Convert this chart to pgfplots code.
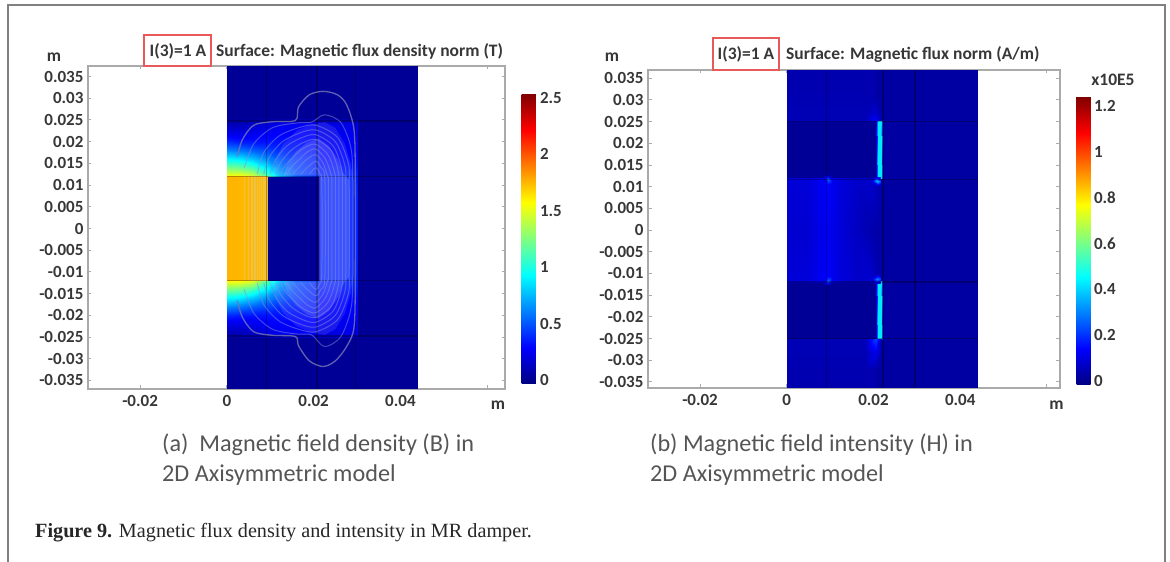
\documentclass[border=0pt]{standalone}
\usepackage{fontspec}
\setmainfont{Carlito}
\newfontfamily\serifcap{Liberation Serif}
\usepackage{pgfplots}
\pgfplotsset{compat=1.18}
\definecolor{framegray}{RGB}{170,170,170}
\definecolor{txt}{RGB}{55,55,55}
\definecolor{captxt}{RGB}{85,85,85}
\definecolor{boxred}{RGB}{232,90,90}
\definecolor{flux}{RGB}{135,140,225}
\definecolor{fluxo}{RGB}{115,115,185}
\pgfplotsset{
  panel/.style={
    scale only axis, axis on top=false,
    axis line style={framegray,line width=1.6pt},
    tick style={framegray,line width=1pt},
    tick align=inside, major tick length=3.5pt,
    scaled x ticks=false, scaled y ticks=false,
    xtick={-0.02,0,0.02,0.04,0.06},
    xticklabels={-0.02,0,0.02,0.04,{}},
    ytick={-0.035,-0.03,-0.025,-0.02,-0.015,-0.01,-0.005,0,0.005,0.01,0.015,0.02,0.025,0.03,0.035},
    yticklabels={-0.035,-0.03,-0.025,-0.02,-0.015,-0.01,-0.005,0,0.005,0.01,0.015,0.02,0.025,0.03,0.035},
    tick label style={font=\fontsize{17}{17}\selectfont\bfseries,text=txt},
    xticklabel style={yshift=-3pt},
    yticklabel style={xshift=-1pt},
    xticklabel pos=lower, yticklabel pos=left,
    colormap/jet, clip=true,
  },
  cell/.style={surf,shader=interp,forget plot,point meta=\thisrow{c}},
  cbar/.style={
    tick label style={font=\fontsize{17}{17}\selectfont\bfseries,text=txt},
    major tick length=0pt, axis line style={draw=none}, tick style={draw=none},
    scaled y ticks=false,
  },
  grid line/.style={black,opacity=0.28,line width=1.4pt,forget plot},
  f/.style={flux,line width=1pt,opacity=0.5,smooth,forget plot},
  fo/.style={fluxo,line width=1.3pt,opacity=0.85,smooth,forget plot},
}
\begin{document}
\begin{tikzpicture}[x=1pt,y=1pt]
\path[use as bounding box] (0,0) rectangle (1170,562);
\draw[gray,line width=1.2pt] (8,0) -- (8,557) -- (1165,557) -- (1165,0);

% ---------------- left panel
\begin{axis}[panel, at={(88pt,173pt)}, anchor=south west, width=417pt, height=323pt,
  xmin=-0.0320, xmax=0.0641, ymin=-0.03698, ymax=0.03744,
  point meta min=-0.035, point meta max=2.535,
  colorbar,
  colorbar style={at={(parent axis.south west)},anchor=south west,xshift=425pt,yshift=5pt,
    width=15pt,height=290pt,ytick={0,0.5,1,1.5,2,2.5},yticklabels={0,0.5,1,1.5,2,2.5},
    yticklabel pos=right,cbar},
]
\addplot[cell,mesh/cols=2] table {
x y c
0 -0.03698 0.02
0.044 -0.03698 0.02
0 0.03744 0.02
0.044 0.03744 0.02
};
% top cap
\addplot[cell,mesh/cols=7] table {
x y c
0 0.012 1.56
0.003 0.012 1.56
0.006 0.012 1.48
0.0093 0.012 1.15
0.012 0.012 0.78
0.016 0.012 0.50
0.0215 0.012 0.38
0 0.014 1.25
0.003 0.014 1.22
0.006 0.014 1.12
0.0093 0.014 0.90
0.012 0.014 0.65
0.016 0.014 0.46
0.0215 0.014 0.36
0 0.016 0.92
0.003 0.016 0.88
0.006 0.016 0.78
0.0093 0.016 0.65
0.012 0.016 0.52
0.016 0.016 0.42
0.0215 0.016 0.35
0 0.018 0.62
0.003 0.018 0.58
0.006 0.018 0.52
0.0093 0.018 0.46
0.012 0.018 0.40
0.016 0.018 0.36
0.0215 0.018 0.33
0 0.020 0.40
0.003 0.020 0.36
0.006 0.020 0.34
0.0093 0.020 0.33
0.012 0.020 0.33
0.016 0.020 0.32
0.0215 0.020 0.31
0 0.022 0.22
0.003 0.022 0.22
0.006 0.022 0.24
0.0093 0.022 0.27
0.012 0.022 0.28
0.016 0.022 0.28
0.0215 0.022 0.28
0 0.024 0.10
0.003 0.024 0.11
0.006 0.024 0.15
0.0093 0.024 0.20
0.012 0.024 0.24
0.016 0.024 0.25
0.0215 0.024 0.25
0 0.0252 0.04
0.003 0.0252 0.04
0.006 0.0252 0.05
0.0093 0.0252 0.06
0.012 0.0252 0.07
0.016 0.0252 0.08
0.0215 0.0252 0.10
};
% bottom cap
\addplot[cell,mesh/cols=7] table {
x y c
0 -0.012 1.56
0.003 -0.012 1.56
0.006 -0.012 1.48
0.0093 -0.012 1.15
0.012 -0.012 0.78
0.016 -0.012 0.50
0.0215 -0.012 0.38
0 -0.014 1.25
0.003 -0.014 1.22
0.006 -0.014 1.12
0.0093 -0.014 0.90
0.012 -0.014 0.65
0.016 -0.014 0.46
0.0215 -0.014 0.36
0 -0.016 0.92
0.003 -0.016 0.88
0.006 -0.016 0.78
0.0093 -0.016 0.65
0.012 -0.016 0.52
0.016 -0.016 0.42
0.0215 -0.016 0.35
0 -0.018 0.62
0.003 -0.018 0.58
0.006 -0.018 0.52
0.0093 -0.018 0.46
0.012 -0.018 0.40
0.016 -0.018 0.36
0.0215 -0.018 0.33
0 -0.020 0.40
0.003 -0.020 0.36
0.006 -0.020 0.34
0.0093 -0.020 0.33
0.012 -0.020 0.33
0.016 -0.020 0.32
0.0215 -0.020 0.31
0 -0.022 0.22
0.003 -0.022 0.22
0.006 -0.022 0.24
0.0093 -0.022 0.27
0.012 -0.022 0.28
0.016 -0.022 0.28
0.0215 -0.022 0.28
0 -0.024 0.10
0.003 -0.024 0.11
0.006 -0.024 0.15
0.0093 -0.024 0.20
0.012 -0.024 0.24
0.016 -0.024 0.25
0.0215 -0.024 0.25
0 -0.0252 0.04
0.003 -0.0252 0.04
0.006 -0.0252 0.05
0.0093 -0.0252 0.06
0.012 -0.0252 0.07
0.016 -0.0252 0.08
0.0215 -0.0252 0.10
};
% shaft
\addplot[cell,mesh/cols=3] table {
x y c
0 -0.012 1.76
0.005 -0.012 1.75
0.0093 -0.012 1.74
0 0.012 1.76
0.005 0.012 1.75
0.0093 0.012 1.74
};
% outer cylinder
\addplot[cell,mesh/cols=2] table {
x y c
0.0215 -0.0252 0.08
0.030 -0.0252 0.08
0.0215 -0.024 0.22
0.030 -0.024 0.22
0.0215 -0.016 0.30
0.030 -0.016 0.30
0.0215 -0.012 0.37
0.030 -0.012 0.37
0.0215 0.012 0.37
0.030 0.012 0.37
0.0215 0.016 0.30
0.030 0.016 0.30
0.0215 0.024 0.22
0.030 0.024 0.22
0.0215 0.0252 0.08
0.030 0.0252 0.08
};
% veil of the densely packed flux lines
\addplot[draw=none,fill=white,opacity=0.10,forget plot] coordinates {(.0105,.0122)(.0113,.016)(.013,.0195)(.016,.0225)(.0195,.0240)(.0225,.0245)(.0250,.0232)(.0272,.0195)(.0285,.015)(.0292,.011)(.0292,-.011)(.0285,-.015)(.0272,-.0195)(.0250,-.0232)(.0225,-.0245)(.0195,-.0240)(.016,-.0225)(.013,-.0195)(.0113,-.016)(.0105,-.0122)(.0212,-.0122)(.0212,.0122)} -- cycle;
\addplot[draw=none,fill=white,opacity=0.14,forget plot] coordinates {(.0130,.0122)(.0140,.015)(.0160,.0178)(.0185,.0198)(.0210,.0208)(.0235,.0190)(.0255,.0160)(.0270,.0125)(.0283,.0110)(.0283,-.0110)(.0270,-.0125)(.0255,-.0160)(.0235,-.0190)(.0210,-.0208)(.0185,-.0198)(.0160,-.0178)(.0140,-.015)(.0130,-.0122)(.0212,-.0122)(.0212,.0122)} -- cycle;
% dense lines in the shaft
\foreach \xx in {0.0040,0.0050,0.0058,0.0065,0.0071,0.0076,0.0080,0.0084,0.0087,0.0090}{
  \edef\tmp{\noexpand\addplot[color=gray!35!white,line width=1.3pt,opacity=0.32,forget plot] coordinates {(\xx,-0.012) (\xx,0.012)};}\tmp
}
% cell boundaries
\addplot[grid line] coordinates {(0.0092,-0.03698) (0.0092,0.03744)};
\addplot[grid line] coordinates {(0.0208,-0.03698) (0.0208,0.03744)};
\addplot[grid line] coordinates {(0.0297,-0.03698) (0.0297,0.03744)};
\addplot[grid line] coordinates {(0,0.0248) (0.044,0.0248)};
\addplot[grid line] coordinates {(0,0.012) (0.044,0.012)};
\addplot[grid line] coordinates {(0,-0.012) (0.044,-0.012)};
\addplot[grid line] coordinates {(0,-0.0248) (0.044,-0.0248)};
% flux lines
\addplot[fo] coordinates {(0.0024,0.0166)(0.0036,0.0205)(0.0062,0.0238)(0.0105,0.0246)(0.0158,0.0249)(0.0165,0.0280)(0.0190,0.0308)(0.0222,0.0316)(0.0255,0.0308)(0.0276,0.0285)(0.0293,0.0228)(0.0296,0.0120)(0.0296,-0.0120)(0.0293,-0.0228)(0.0276,-0.0272)(0.0250,-0.0305)(0.0222,-0.0318)(0.0190,-0.0305)(0.0165,-0.0270)(0.0158,-0.0249)(0.0105,-0.0246)(0.0062,-0.0238)(0.0036,-0.0205)(0.0024,-0.0166)};
\addplot[f] coordinates {(0.0040,0.0140)(0.0062,0.0195)(0.0105,0.0232)(0.0160,0.0243)(0.0195,0.0245)(0.0225,0.0262)(0.0262,0.0245)(0.0285,0.0190)(0.0290,0.0120)(0.0290,-0.0120)(0.0285,-0.0190)(0.0262,-0.0250)(0.0225,-0.0272)(0.0195,-0.0245)(0.0160,-0.0243)(0.0105,-0.0232)(0.0062,-0.0195)(0.0040,-0.0140)};
\addplot[f] coordinates {(.0070,.0125)(.0085,.0175)(.0120,.0213)(.0165,.0232)(.0205,.0238)(.0255,.0210)(.0280,.0150)(.0282,.0100)(.0282,-.0100)(.0280,-.0150)(.0255,-.0210)(.0205,-.0238)(.0165,-.0232)(.0120,-.0213)(.0085,-.0175)(.0070,-.0125)};
\addplot[f] coordinates {(.0085,.0125)(.0098,.0165)(.0128,.0200)(.0168,.0220)(.0205,.0227)(.0250,.0200)(.0272,.0145)(.0274,.0100)(.0274,-.0100)(.0272,-.0145)(.0250,-.0200)(.0205,-.0227)(.0168,-.0220)(.0128,-.0200)(.0098,-.0165)(.0085,-.0125)};
\addplot[f] coordinates {(.0100,.0125)(.0112,.0158)(.0138,.0190)(.0172,.0209)(.0205,.0216)(.0245,.0190)(.0264,.0140)(.0266,.0100)(.0266,-.0100)(.0264,-.0140)(.0245,-.0190)(.0205,-.0216)(.0172,-.0209)(.0138,-.0190)(.0112,-.0158)(.0100,-.0125)};
\addplot[f] coordinates {(.0112,.0125)(.0124,.0152)(.0148,.0180)(.0176,.0198)(.0205,.0205)(.0240,.0180)(.0256,.0135)(.0258,.0100)(.0258,-.0100)(.0256,-.0135)(.0240,-.0180)(.0205,-.0205)(.0176,-.0198)(.0148,-.0180)(.0124,-.0152)(.0112,-.0125)};
\addplot[f] coordinates {(.0124,.0125)(.0136,.0147)(.0158,.0170)(.0180,.0187)(.0205,.0194)(.0233,.0170)(.0248,.0130)(.0250,.0100)(.0250,-.0100)(.0248,-.0130)(.0233,-.0170)(.0205,-.0194)(.0180,-.0187)(.0158,-.0170)(.0136,-.0147)(.0124,-.0125)};
\addplot[f] coordinates {(.0138,.0125)(.0150,.0143)(.0168,.0160)(.0185,.0176)(.0205,.0183)(.0227,.0160)(.0240,.0125)(.0242,.0100)(.0242,-.0100)(.0240,-.0125)(.0227,-.0160)(.0205,-.0183)(.0185,-.0176)(.0168,-.0160)(.0150,-.0143)(.0138,-.0125)};
\addplot[f] coordinates {(.0152,.0125)(.0165,.0140)(.0185,.0160)(.0205,.0170)(.0222,.0150)(.0232,.0120)(.0234,.0100)(.0234,-.0100)(.0232,-.0120)(.0222,-.0150)(.0205,-.0170)(.0185,-.0160)(.0165,-.0140)(.0152,-.0125)};
\addplot[f] coordinates {(.0170,.0125)(.0185,.0140)(.0205,.0155)(.0217,.0140)(.0226,.0110)(.0226,-.0110)(.0217,-.0140)(.0205,-.0155)(.0185,-.0140)(.0170,-.0125)};
\addplot[f] coordinates {(.0190,.0125)(.0205,.0140)(.0215,.0125)(.0219,.0100)(.0219,-.0100)(.0215,-.0125)(.0205,-.0140)(.0190,-.0125)};
\end{axis}

% ---------------- right panel
\begin{axis}[panel, at={(648pt,174pt)}, anchor=south west, width=412pt, height=318pt,
  xmin=-0.0320, xmax=0.0630, ymin=-0.0364, ymax=0.0369,
  point meta min=-0.017, point meta max=1.24,
  colorbar,
  colorbar style={at={(parent axis.south west)},anchor=south west,xshift=420pt,yshift=3pt,
    width=14pt,height=288pt,ytick={0,0.2,0.4,0.6,0.8,1,1.2},yticklabels={0,0.2,0.4,0.6,0.8,1,1.2},
    yticklabel pos=right,cbar},
]
\addplot[cell,mesh/cols=2] table {
x y c
0 -0.0364 0.025
0.044 -0.0364 0.025
0 0.0369 0.025
0.044 0.0369 0.025
};
% above and below the caps
\addplot[cell,mesh/cols=2] table {
x y c
0 0.025 0.05
0.0205 0.025 0.05
0 0.0369 0.04
0.0205 0.0369 0.04
};
\addplot[cell,mesh/cols=2] table {
x y c
0 -0.0364 0.04
0.0205 -0.0364 0.04
0 -0.025 0.05
0.0205 -0.025 0.05
};
% caps (darker)
\addplot[cell,mesh/cols=2] table {
x y c
0 0.012 0.01
0.0208 0.012 0.01
0 0.025 0.01
0.0208 0.025 0.01
};
\addplot[cell,mesh/cols=2] table {
x y c
0 -0.025 0.01
0.0208 -0.025 0.01
0 -0.012 0.01
0.0208 -0.012 0.01
};
% shaft and coil
\addplot[cell,mesh/cols=7] table {
x y c
0 -0.012 0.09
0.005 -0.012 0.095
0.0093 -0.012 0.14
0.012 -0.012 0.10
0.016 -0.012 0.075
0.0195 -0.012 0.08
0.0215 -0.012 0.04
0 0 0.08
0.005 0 0.085
0.0093 0 0.125
0.012 0 0.095
0.016 0 0.065
0.0195 0 0.04
0.0215 0 0.03
0 0.012 0.09
0.005 0.012 0.095
0.0093 0.012 0.14
0.012 0.012 0.10
0.016 0.012 0.075
0.0195 0.012 0.08
0.0215 0.012 0.04
};
% hot gap lines
\addplot[cell,mesh/cols=4] table {
x y c
0.0206 0.0118 0.08
0.0210 0.0118 0.43
0.0217 0.0118 0.43
0.0221 0.0118 0.08
0.0206 0.0252 0.08
0.0210 0.0252 0.43
0.0217 0.0252 0.43
0.0221 0.0252 0.08
};
\addplot[cell,mesh/cols=4] table {
x y c
0.0206 -0.0252 0.08
0.0210 -0.0252 0.43
0.0217 -0.0252 0.43
0.0221 -0.0252 0.08
0.0206 -0.0118 0.08
0.0210 -0.0118 0.43
0.0217 -0.0118 0.43
0.0221 -0.0118 0.08
};
% corner spots
\addplot[cell,mesh/cols=3] table {
x y c
0.0197 0.0103 0.06
0.0207 0.0103 0.10
0.0217 0.0103 0.05
0.0197 0.0113 0.10
0.0207 0.0113 0.38
0.0217 0.0113 0.20
0.0197 0.0123 0.012
0.0207 0.0123 0.10
0.0217 0.0123 0.20
};
\addplot[cell,mesh/cols=3] table {
x y c
0.0197 -0.0103 0.06
0.0207 -0.0103 0.10
0.0217 -0.0103 0.05
0.0197 -0.0113 0.10
0.0207 -0.0113 0.30
0.0217 -0.0113 0.20
0.0197 -0.0123 0.012
0.0207 -0.0123 0.10
0.0217 -0.0123 0.20
};
\addplot[cell,mesh/cols=3] table {
x y c
0.0086 0.0108 0.13
0.0095 0.0108 0.17
0.0104 0.0108 0.13
0.0086 0.0117 0.11
0.0095 0.0117 0.27
0.0104 0.0117 0.11
0.0086 0.0126 0.012
0.0095 0.0126 0.04
0.0104 0.0126 0.012
};
\addplot[cell,mesh/cols=3] table {
x y c
0.0086 -0.0108 0.13
0.0095 -0.0108 0.17
0.0104 -0.0108 0.13
0.0086 -0.0117 0.11
0.0095 -0.0117 0.27
0.0104 -0.0117 0.11
0.0086 -0.0126 0.012
0.0095 -0.0126 0.04
0.0104 -0.0126 0.012
};
% fringes above and below the gap
\addplot[cell,mesh/cols=3] table {
x y c
0.0180 0.0252 0.05
0.0205 0.0252 0.14
0.0218 0.0252 0.05
0.0180 0.0270 0.045
0.0205 0.0270 0.08
0.0218 0.0270 0.03
0.0180 0.0300 0.042
0.0205 0.0300 0.04
0.0218 0.0300 0.025
};
\addplot[cell,mesh/cols=3] table {
x y c
0.0180 -0.0252 0.05
0.0205 -0.0252 0.22
0.0218 -0.0252 0.05
0.0180 -0.0280 0.045
0.0205 -0.0280 0.12
0.0218 -0.0280 0.03
0.0180 -0.0320 0.042
0.0205 -0.0320 0.04
0.0218 -0.0320 0.025
};
\addplot[grid line] coordinates {(0.0091,-0.0364) (0.0091,0.0369)};
\addplot[grid line] coordinates {(0.0222,-0.0364) (0.0222,0.0369)};
\addplot[grid line] coordinates {(0.0296,-0.0364) (0.0296,0.0369)};
\addplot[grid line] coordinates {(0,0.025) (0.044,0.025)};
\addplot[grid line] coordinates {(0,0.0117) (0.044,0.0117)};
\addplot[grid line] coordinates {(0,-0.012) (0.044,-0.012)};
\addplot[grid line] coordinates {(0,-0.025) (0.044,-0.025)};
\end{axis}

% ---------------- titles and labels
\tikzset{lab/.style={font=\fontsize{17.5}{18}\selectfont\bfseries,text=txt,inner sep=0pt}}
\draw[boxred,line width=1.3pt] (144,496) rectangle (211,527);
\node[lab] at (178,511) {I(3)=1 A};
\node[lab,anchor=west] at (216,511) {Surface: Magnetic flux density norm (T)};
\draw[boxred,line width=1.3pt] (713,492) rectangle (779,524);
\node[lab] at (746,508) {I(3)=1 A};
\node[lab,anchor=west] at (786,508) {Surface: Magnetic flux norm (A/m)};
\node[lab] at (54,505) {m};
\node[lab] at (612,505) {m};
\node[lab] at (1113,482) {x10E5};
\node[lab] at (498,157) {m};
\node[lab] at (1056.5,157) {m};
\tikzset{captext/.style={font=\fontsize{24.2}{24}\selectfont,text=captxt,inner sep=0pt,anchor=base west}}
\node[captext] at (162,110) {(a)\ \ Magnetic field density (B) in};
\node[captext] at (162,80) {2D Axisymmetric model};
\node[captext] at (650,110) {(b) Magnetic field intensity (H) in};
\node[captext] at (650,80) {2D Axisymmetric model};
\node[font=\serifcap\fontsize{20.2}{20}\selectfont,text=black!85,inner sep=0pt,anchor=base west] at (35,24) {\textbf{Figure 9.} Magnetic flux density and intensity in MR damper.};
\end{tikzpicture}
\end{document}
